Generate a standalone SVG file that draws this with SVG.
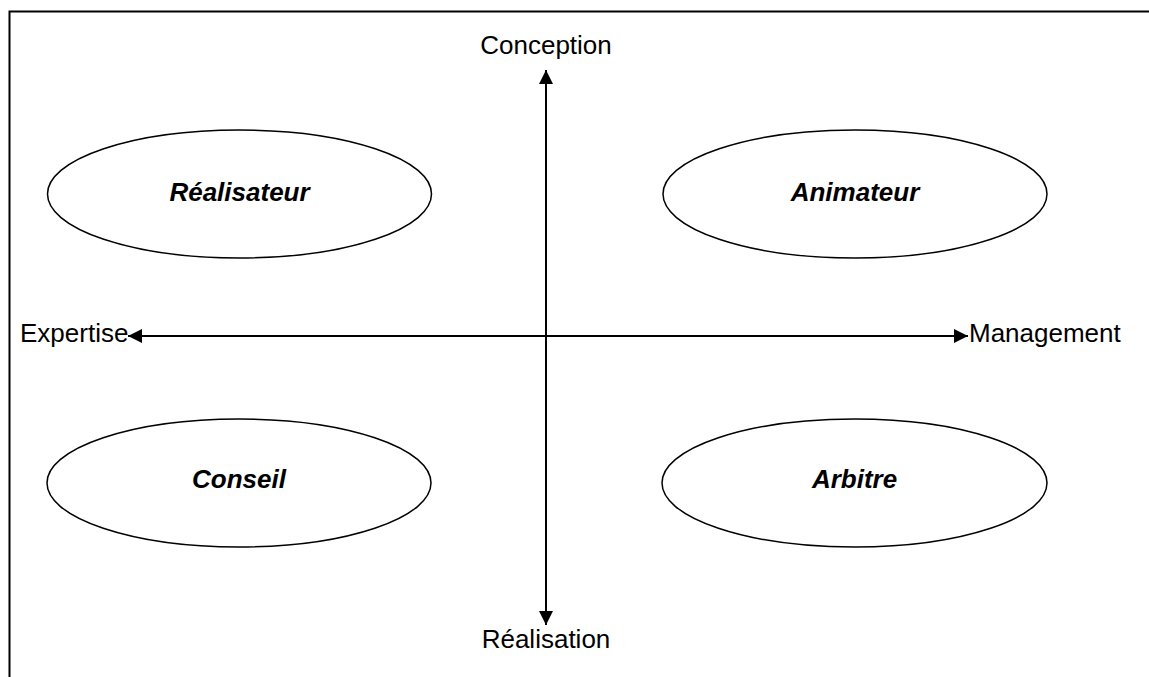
<svg xmlns="http://www.w3.org/2000/svg" width="1149" height="677" viewBox="0 0 1149 677">
<style>
.t{font-family:"Liberation Sans",Arial,sans-serif;font-size:26px;fill:#000}
.n{font-weight:bold;font-style:italic;text-anchor:middle}
.e{fill:#fff;stroke:#000;stroke-width:1.5}
.ax{stroke:#000;stroke-width:2;fill:none}
</style>
<defs>
<marker id="ah" viewBox="0 0 10 10" refX="10" refY="5" markerWidth="14" markerHeight="14" markerUnits="userSpaceOnUse" orient="auto-start-reverse">
<path d="M0,0 L10,5 L0,10 z" fill="#000"/>
</marker>
</defs>
<rect width="1149" height="677" fill="#fff"/>
<path d="M9.5,677 V11.5 H1149" fill="none" stroke="#000" stroke-width="2"/>
<g id="connectors">
<line class="ax" x1="546" y1="70" x2="546" y2="625" marker-start="url(#ah)" marker-end="url(#ah)"/>
<line class="ax" x1="128" y1="336" x2="968" y2="336" marker-start="url(#ah)" marker-end="url(#ah)"/>
</g>
<g id="labels">
<text class="t" x="546" y="54" text-anchor="middle">Conception</text>
<text class="t" x="546" y="648" text-anchor="middle">Réalisation</text>
<text class="t" x="20" y="342">Expertise</text>
<text class="t" x="969" y="342">Management</text>
</g>
<g id="realisateur">
<ellipse class="e" cx="239.5" cy="194" rx="192" ry="64"/>
<text class="t n" x="239.5" y="201">Réalisateur</text>
</g>
<g id="animateur">
<ellipse class="e" cx="855" cy="194" rx="192" ry="64"/>
<text class="t n" x="855" y="201">Animateur</text>
</g>
<g id="conseil">
<ellipse class="e" cx="239" cy="483" rx="192" ry="64"/>
<text class="t n" x="239" y="488">Conseil</text>
</g>
<g id="arbitre">
<ellipse class="e" cx="854.5" cy="483" rx="192.5" ry="64"/>
<text class="t n" x="854.5" y="488">Arbitre</text>
</g>
</svg>
